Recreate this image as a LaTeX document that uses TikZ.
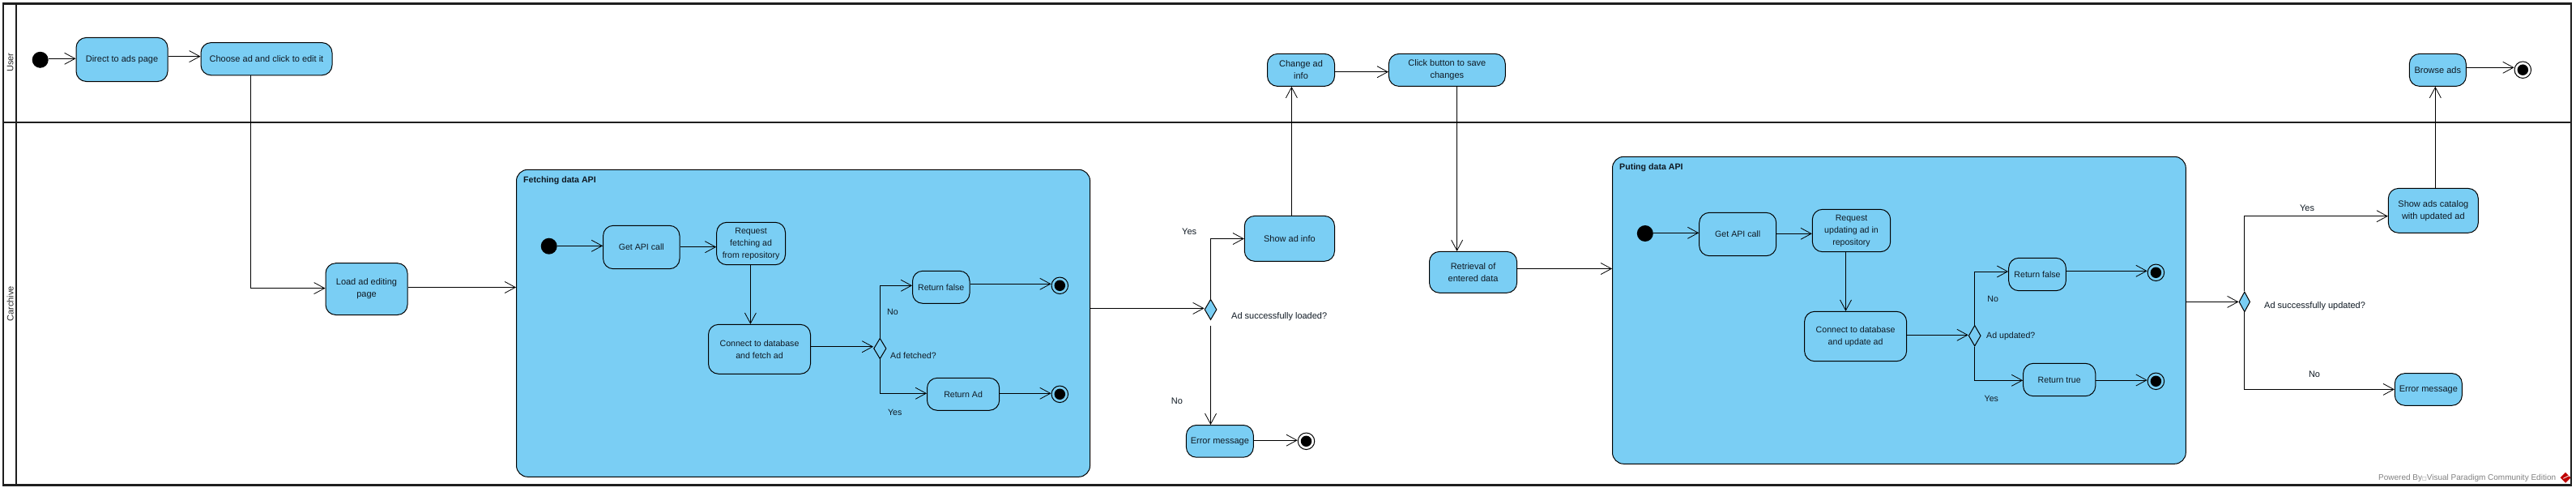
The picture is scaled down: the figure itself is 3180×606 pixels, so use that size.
\documentclass[tikz,border=0pt]{standalone}
\usepackage{fontspec}
\setmainfont{Liberation Sans}
\newfontfamily\boxfont{DejaVu Sans}
\usetikzlibrary{arrows.meta,shapes.geometric}
\definecolor{actblue}{RGB}{122,206,244}
\definecolor{lanek}{RGB}{30,30,30}
\definecolor{inkc}{RGB}{15,25,35}
\newcommand\actbox[6]{%
  \pgfmathsetmacro\cxv{(#2+#4)/2}\pgfmathsetmacro\cyv{(#3+#5)/2}%
  \pgfmathsetmacro\wv{#4-#2}\pgfmathsetmacro\hv{#5-#3}%
  \node[actnode,minimum width=\wv pt,minimum height=\hv pt] (#1) at (\cxv,\cyv) {#6};}
\newcommand\grpbox[6]{%
  \pgfmathsetmacro\cxv{(#2+#4)/2}\pgfmathsetmacro\cyv{(#3+#5)/2}%
  \pgfmathsetmacro\wv{#4-#2}\pgfmathsetmacro\hv{#5-#3}%
  \node[grpnode,minimum width=\wv pt,minimum height=\hv pt] (#1) at (\cxv,\cyv) {};
  \node[grptitle,anchor=west] (#1t) at (#2+8.5,#3+13) {#6};}
\newcommand\finalmark[4]{%
  \node[endring,fill=#4] (#1) at (#2,#3) {};
  \node[enddot] (#1d) at (#2,#3) {};}
\tikzset{
  x=1pt,y=-1pt,
  every node/.style={font=\fontsize{11}{15}\selectfont,text=inkc},
  inner text/.style={every node/.style={font=\fontsize{10.6}{15}\selectfont,text=inkc}},
  actnode/.style={draw=black,line width=1pt,fill=actblue,rounded corners=12.5pt,inner sep=0pt,align=center},
  grpnode/.style={draw=black,line width=1pt,fill=actblue,rounded corners=14pt,inner sep=0pt},
  grptitle/.style={font=\fontsize{10.6}{13}\selectfont\bfseries,inner sep=0pt},
  lab/.style={inner sep=0pt},
  lanelab/.style={inner sep=0pt,rotate=90,text=black!85},
  startdot/.style={circle,fill=black,minimum size=20pt,inner sep=0pt},
  endring/.style={circle,draw=black,line width=1pt,minimum size=20.5pt,inner sep=0pt},
  enddot/.style={circle,fill=black,minimum size=13.5pt,inner sep=0pt},
  decnode/.style={diamond,draw=black,line width=1pt,inner sep=0pt,aspect=0.58},
  flow/.style={draw=black,line width=0.95pt,-{Straight Barb[length=13pt,width=14pt,line width=0.8pt]}},
  laneline/.style={draw=lanek,line width=2.3pt},
}
\begin{document}
\begin{tikzpicture}
\useasboundingbox (0,0) rectangle (3180,606);
% swimlane frame
\node[lanelab] (laneU) at (12.6,77.3) {User};
\node[lanelab] (laneC) at (12.6,375) {Carchive};
\draw[laneline] (4.3,4.6) rectangle (3174.3,598.4);
\draw[laneline] (20.2,4.6) -- (20.2,598.4);
\draw[laneline] (4.3,150.8) -- (3174.3,150.8);

% containers
\grpbox{fetch}{637.5}{209.3}{1345.6}{588.3}{Fetching data API}
\grpbox{put}{1990.5}{193.3}{2698.3}{572.3}{Puting data API}

% first part
\node[startdot] (s0) at (49.7,73.8) {};
\actbox{direct}{94}{46.4}{207}{100.5}{Direct to ads page}
\actbox{choose}{248}{52.6}{410}{92.8}{Choose ad and click to edit it}
\actbox{load}{402}{324.7}{503}{388.5}{Load ad editing\\page}

% fetching
\begin{scope}[inner text]
\node[startdot] (s1) at (677.7,303.7) {};
\actbox{fget}{744.6}{278.3}{839}{331.7}{Get API call}
\actbox{freq}{884.7}{274.3}{969.5}{326.7}{Request\\fetching ad\\from repository}
\actbox{fcon}{874.5}{400.3}{1000.5}{461.3}{Connect to database\\and fetch ad}
\node[decnode,minimum width=15.5pt,minimum height=25.4pt] (fdec) at (1086.3,430) {};
\actbox{ffalse}{1126.5}{334.3}{1197}{374.3}{Return false}
\actbox{fad}{1144.5}{466.3}{1233.7}{506.3}{Return Ad}
\finalmark{fe1}{1308.3}{352.3}{actblue}
\finalmark{fe2}{1308.3}{486.3}{actblue}
\node[lab] (fno) at (1102,385.3) {No};
\node[lab,anchor=west] (fq) at (1099,438.3) {Ad fetched?};
\node[lab] (fyes) at (1104.7,509.3) {Yes};
\end{scope}

% middle
\node[decnode,fill=actblue,minimum width=15pt,minimum height=25.3pt] (d1) at (1494.5,381.9) {};
\actbox{showad}{1536.3}{266.4}{1647.5}{322.3}{Show ad info}
\actbox{err1}{1464.4}{524.5}{1547.3}{564.2}{Error message}
\finalmark{e1}{1612.5}{544.3}{white}
\actbox{change}{1564.5}{66.4}{1647.5}{106.4}{Change ad\\info}
\actbox{click}{1714.4}{66.4}{1858.3}{106.4}{Click button to save\\changes}
\actbox{retr}{1764.5}{310.4}{1872.6}{361.3}{Retrieval of\\entered data}
\node[lab] (y1) at (1468.2,286.2) {Yes};
\node[lab] (n1) at (1453,495.2) {No};
\node[lab,anchor=west] (q1) at (1520,390.2) {Ad successfully loaded?};

% putting
\begin{scope}[inner text]
\node[startdot] (s2) at (2030.8,288) {};
\actbox{pget}{2097.7}{262.3}{2192.7}{315.7}{Get API call}
\actbox{preq}{2237.3}{258.3}{2333.7}{310.7}{Request\\updating ad in\\repository}
\actbox{pcon}{2227.6}{384.3}{2353.6}{445.7}{Connect to database\\and update ad}
\node[decnode,minimum width=15pt,minimum height=25.7pt] (pdec) at (2437.7,414.2) {};
\actbox{pfalse}{2479.6}{318.3}{2550.4}{358.7}{Return false}
\actbox{ptrue}{2497.6}{448.3}{2586.8}{488.7}{Return true}
\finalmark{pe1}{2661.4}{336.3}{actblue}
\finalmark{pe2}{2661.4}{470.3}{actblue}
\node[lab] (pno) at (2460.2,369.3) {No};
\node[lab,anchor=west] (pq) at (2452,414.3) {Ad updated?};
\node[lab] (pyes) at (2458.3,492.3) {Yes};
\end{scope}

% right
\node[decnode,fill=actblue,minimum width=13.7pt,minimum height=24.9pt] (d2) at (2770.8,372.4) {};
\actbox{cat}{2948.3}{232.4}{3059.3}{287.3}{Show ads catalog\\with updated ad}
\actbox{err2}{2956.3}{460.6}{3039.3}{500.3}{Error message}
\actbox{browse}{2974.3}{66.4}{3044.3}{106.4}{Browse ads}
\finalmark{e2}{3114.3}{86.2}{white}
\node[lab] (y2) at (2848,257) {Yes};
\node[lab] (n2) at (2857,462) {No};
\node[lab,anchor=west] (q2) at (2795,377.2) {Ad successfully updated?};

% watermark
\node[lab,anchor=west,text=black!50,font=\fontsize{10}{12}\selectfont] (wm) at (2936,589.5) {Powered By{\boxfont\fontsize{6}{12}\selectfont □}Visual Paradigm Community Edition};
\node[diamond,fill=red!75!black,inner sep=0pt,minimum size=13pt] (logo) at (3167,589.3) {};
\draw[white,line width=0.8pt] (logo.west) ++(4,1) -- ++(8,-4);
\draw[laneline] (3174.3,575) -- (3174.3,598.4) -- (3160,598.4);

% connectors, first part
\draw[flow] (s0.east |- 0,72.3) -- (direct.west |- 0,72.3);
\draw[flow] (direct.east |- 0,69.6) -- (choose.west |- 0,69.6);
\draw[flow] (choose.south -| 309,0) |- (load.west |- 0,355.6);
\draw[flow] (load.east |- 0,354.5) -- (fetch.west |- 0,354.5);
% fetching
\draw[flow] (s1.east |- 0,303.3) -- (fget.west |- 0,303.3);
\draw[flow] (fget.east |- 0,304.7) -- (freq.west |- 0,304.7);
\draw[flow] (freq.south -| 926.4,0) -- (fcon.north -| 926.4,0);
\draw[flow] (fcon.east |- 0,427.7) -- (fdec.west |- 0,427.7);
\draw[flow] (fdec.north) |- (ffalse.west |- 0,352.3);
\draw[flow] (fdec.south) |- (fad.west |- 0,485.3);
\draw[flow] (ffalse.east |- 0,350.3) -- (fe1.west |- 0,350.3);
\draw[flow] (fad.east |- 0,485.3) -- (fe2.west |- 0,485.3);
% middle
\draw[flow] (fetch.east |- 0,380.4) -- (d1.west |- 0,380.4);
\draw[flow] (d1.north) |- (showad.west |- 0,294.5);
\draw[flow,shorten <=6.5pt] (d1.south) -- (err1.north -| d1.south);
\draw[flow] (err1.east |- 0,543.2) -- (e1.west |- 0,543.2);
\draw[flow] (showad.north -| 1594.4,0) -- (change.south -| 1594.4,0);
\draw[flow] (change.east |- 0,88.7) -- (click.west |- 0,88.7);
\draw[flow] (click.south -| 1798.6,0) -- (retr.north -| 1798.6,0);
\draw[flow] (retr.east |- 0,331.5) -- (put.west |- 0,331.5);
% putting
\draw[flow] (s2.east |- 0,287.3) -- (pget.west |- 0,287.3);
\draw[flow] (pget.east |- 0,288.3) -- (preq.west |- 0,288.3);
\draw[flow] (preq.south -| 2278.5,0) -- (pcon.north -| 2278.5,0);
\draw[flow] (pcon.east |- 0,413.3) -- (pdec.west |- 0,413.3);
\draw[flow] (pdec.north) |- (pfalse.west |- 0,335);
\draw[flow] (pdec.south) |- (ptrue.west |- 0,469.3);
\draw[flow] (pfalse.east |- 0,334.3) -- (pe1.west |- 0,334.3);
\draw[flow] (ptrue.east |- 0,469) -- (pe2.west |- 0,469);
% right
\draw[flow] (put.east |- 0,372.4) -- (d2.west);
\draw[flow] (d2.north) |- (cat.west |- 0,266.7);
\draw[flow] (d2.south) |- (err2.west |- 0,480.4);
\draw[flow] (cat.north -| 3006.3,0) -- (browse.south -| 3006.3,0);
\draw[flow] (browse.east |- 0,83.3) -- (e2.west |- 0,83.3);
\end{tikzpicture}
\end{document}
